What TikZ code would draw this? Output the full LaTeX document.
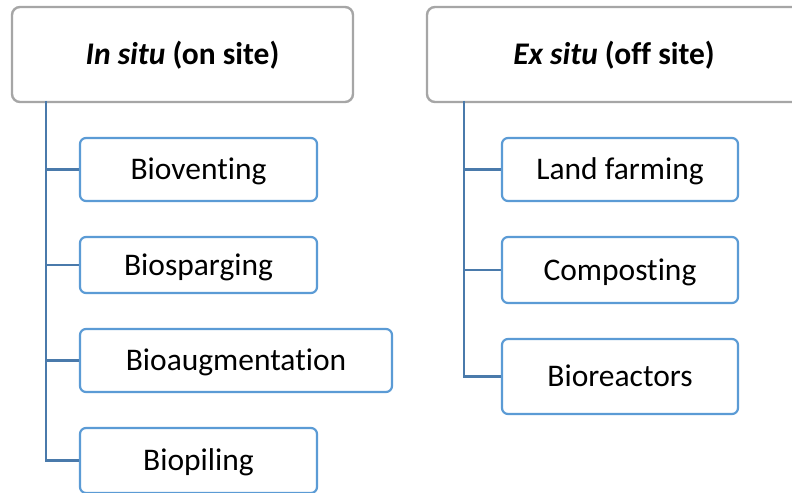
\documentclass[tikz,border=0pt]{standalone}
\usepackage{fontspec}
\setmainfont{Carlito}[Ligatures=NoCommon]
\usepackage{xcolor}
\usepackage{tikz}
\definecolor{headgray}{HTML}{A6A6A6}
\definecolor{boxblue}{HTML}{5B9BD5}
\definecolor{linkblue}{HTML}{4A7AAB}

\begin{document}
\begin{tikzpicture}[x=0.5bp, y=-0.5bp,
    headbox/.style={draw=headgray, line width=1.2bp, rounded corners=4bp, fill=white, inner sep=0pt,
        text height=10.2bp, text depth=0pt,
        minimum height=47.5bp, font=\fontsize{15.8}{19}\selectfont\bfseries},
    methodbox/.style={draw=boxblue, line width=1.1bp, rounded corners=3bp, fill=white, inner sep=0pt,
        text height=10.2bp, text depth=0pt,
        font=\fontsize{15.8}{19}\selectfont},
    link/.style={draw=linkblue, line width=1.4bp}]
    \clip (0,0) rectangle (792,493);

    % --- In situ (on site) ---
    \node[headbox, minimum width=170.5bp] (insitu) at (182.5,54.5) {\textit{In situ} (on site)};
    \node[methodbox, minimum width=118.5bp, minimum height=31.5bp] (bioventing) at (198.5,169.5) {Bioventing};
    \node[methodbox, minimum width=118.5bp, minimum height=28bp] (biosparging) at (198.5,265) {Biosparging};
    \node[methodbox, minimum width=156bp, minimum height=31.5bp] (bioaugmentation) at (236,360.5) {Bioaugmentation};
    \node[methodbox, minimum width=118.5bp, minimum height=32.5bp] (biopiling) at (198.5,460.5) {Biopiling};

    \coordinate (trunkL) at (46,101);
    \draw[link] (trunkL) |- (biopiling.west);
    \foreach \n in {bioventing,biosparging,bioaugmentation} {
        \draw[link] (trunkL |- \n.west) -- (\n.west);
    }

    % --- Ex situ (off site) ---
    \node[headbox, minimum width=187bp] (exsitu) at (614,54.5) {\textit{Ex situ} (off site)};
    \node[methodbox, minimum width=118bp, minimum height=31.5bp] (landfarming) at (620,169.5) {Land farming};
    \node[methodbox, minimum width=118bp, minimum height=33bp] (composting) at (620,270) {Composting};
    \node[methodbox, minimum width=118bp, minimum height=37.5bp] (bioreactors) at (620,376.5) {Bioreactors};

    \coordinate (trunkR) at (464,101);
    \draw[link] (trunkR) |- (bioreactors.west);
    \foreach \n in {landfarming,composting} {
        \draw[link] (trunkR |- \n.west) -- (\n.west);
    }
\end{tikzpicture}
\end{document}
